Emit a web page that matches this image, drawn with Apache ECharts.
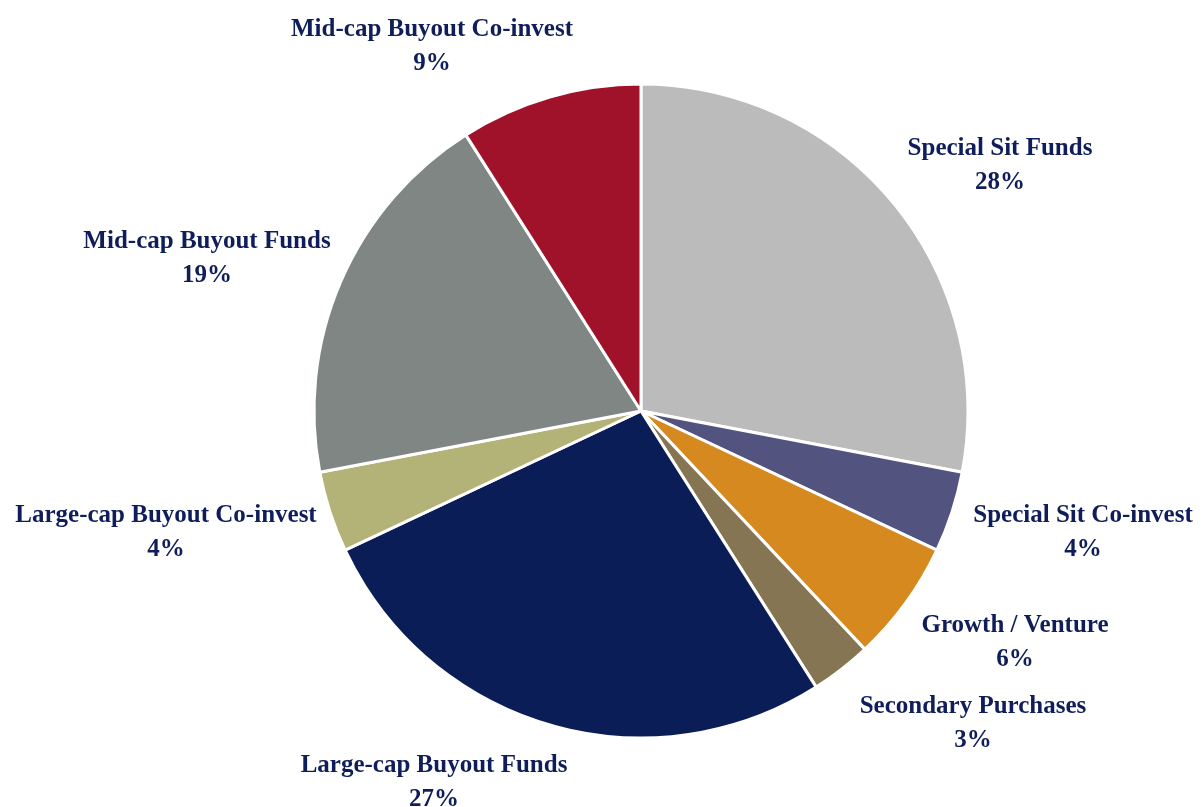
<!DOCTYPE html>
<html>
<head>
<meta charset="utf-8">
<script src="https://cdn.jsdelivr.net/npm/echarts@6/dist/echarts.min.js"></script>
<style>
  html, body { margin: 0; padding: 0; background: #ffffff; }
  #chart { width: 1203px; height: 807px; }
</style>
</head>
<body>
<div id="chart"></div>
<script>
// Portfolio allocation by strategy, clockwise from 12 o'clock
const categories = [
  'Special Sit Funds',
  'Special Sit Co-invest',
  'Growth / Venture',
  'Secondary Purchases',
  'Large-cap Buyout Funds',
  'Large-cap Buyout Co-invest',
  'Mid-cap Buyout Funds',
  'Mid-cap Buyout Co-invest'
];
const shares = [28, 4, 6, 3, 27, 4, 19, 9];
const sliceColors = ['#BBBBBB', '#535380', '#D6891F', '#857553', '#0B1D56', '#B3B277', '#7F8683', '#A0122A'];

// Label anchor points (centre of the two-line label block)
const labelAnchors = [
  [1000, 166], [1083, 533], [1015, 643], [973, 724],
  [434, 783], [166, 533], [207, 259], [432, 47]
];

const chart = echarts.init(document.getElementById('chart'), null, { renderer: 'canvas' });

chart.setOption({
  backgroundColor: '#ffffff',
  animation: false,
  series: [{
    type: 'pie',
    center: [641, 411],
    radius: [0, 327],
    startAngle: 90,
    clockwise: true,
    data: categories.map((name, i) => ({
      name,
      value: shares[i],
      itemStyle: { color: sliceColors[i] }
    })),
    itemStyle: { borderColor: '#ffffff', borderWidth: 3 },
    label: {
      show: true,
      position: 'outside',
      formatter: p => p.name + '\n' + p.value + '%',
      fontFamily: '"Liberation Serif", "Times New Roman", serif',
      fontWeight: 'bold',
      fontSize: 25,
      lineHeight: 34,
      color: '#0F1E5A',
      align: 'center',
      overflow: 'none',
      width: 400
    },
    labelLine: { show: false },
    labelLayout: params => ({
      x: labelAnchors[params.dataIndex][0],
      y: labelAnchors[params.dataIndex][1],
      align: 'center',
      verticalAlign: 'middle'
    }),
    emphasis: { disabled: true }
  }]
});
</script>
</body>
</html>
